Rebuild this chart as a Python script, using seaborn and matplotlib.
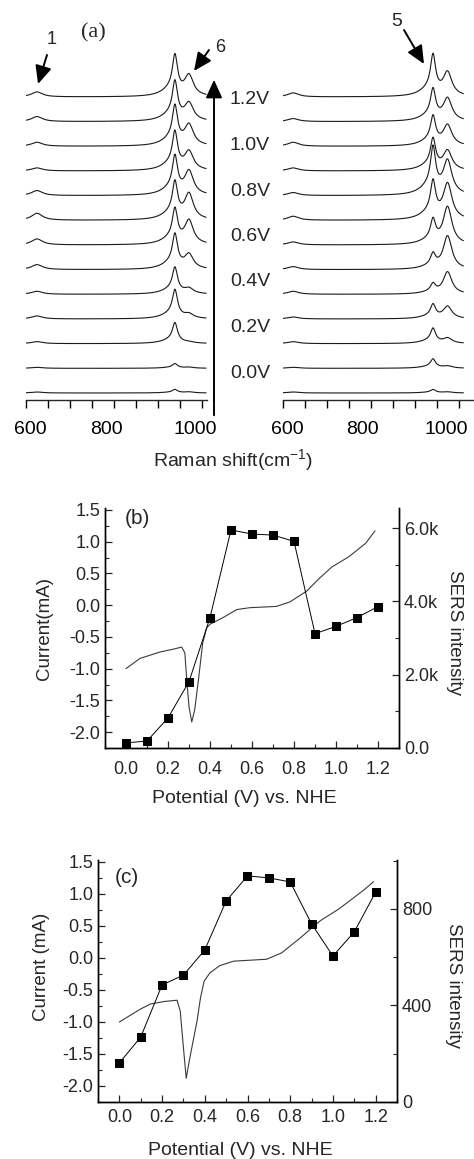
import matplotlib

matplotlib.use("Agg")
import matplotlib.pyplot as plt
import numpy as np
import pandas as pd
import seaborn as sns
from matplotlib.patches import FancyArrowPatch
from matplotlib.ticker import FuncFormatter, MultipleLocator
from matplotlib.transforms import ScaledTranslation

W, H = 474, 1159

# ---- (a) SERS spectra, bottom (0.0 V) to top (1.2 V) ----
potentials_a = [0.0, 0.1, 0.2, 0.3, 0.4, 0.5, 0.6, 0.7, 0.8, 0.9, 1.0, 1.1, 1.2]
potential_labels = ["0.0V", "0.2V", "0.4V", "0.6V", "0.8V", "1.0V", "1.2V"]

band_centers_left = [625, 939, 971]
band1_left = [1, 1, 2, 3, 3, 5, 6, 7, 5, 3, 4, 5, 5]
bandA_left = [3, 4, 18, 25, 23, 30, 30, 32, 33, 33, 34, 34, 35]
bandB_left = [1, 1, 1, 4, 5, 14, 23, 25, 23, 18, 20, 17, 20]

band_centers_right = [623, 941, 974]
band1_right = [1, 1, 2, 2, 3, 3, 3, 4, 3, 3, 4, 3, 4]
bandA_right = [3, 8, 13, 12, 8, 12, 20, 32, 40, 27, 25, 27, 35]
bandB_right = [1, 2, 5, 12, 22, 33, 37, 35, 33, 19, 20, 22, 23]

# ---- (b) CV and SERS intensity ----
cv_b_potential = [0.0, 0.066, 0.16, 0.23, 0.265, 0.28, 0.29, 0.30, 0.313, 0.327, 0.346,
                  0.365, 0.384, 0.40, 0.46, 0.527, 0.59, 0.716, 0.78, 0.86, 0.92, 0.98,
                  1.06, 1.14, 1.186]
cv_b_current = [-1.00, -0.84, -0.74, -0.69, -0.66, -0.75, -1.2, -1.6, -1.84, -1.65, -1.15,
                -0.6, -0.36, -0.30, -0.20, -0.07, -0.04, -0.02, 0.05, 0.22, 0.42, 0.60,
                0.76, 0.97, 1.17]

sers_potential = [0.0, 0.1, 0.2, 0.3, 0.4, 0.5, 0.6, 0.7, 0.8, 0.9, 1.0, 1.1, 1.2]
sers_b = [140, 190, 820, 1810, 3560, 5950, 5840, 5810, 5640, 3120, 3320, 3560, 3860]

# ---- (c) CV and SERS intensity ----
cv_c_potential = [0.0, 0.098, 0.145, 0.21, 0.27, 0.285, 0.30, 0.313, 0.33, 0.364, 0.38,
                  0.397, 0.425, 0.47, 0.535, 0.69, 0.76, 0.846, 0.94, 1.03, 1.14, 1.19]
cv_c_current = [-1.0, -0.8, -0.72, -0.68, -0.66, -0.83, -1.4, -1.88, -1.56, -0.98, -0.62,
                -0.36, -0.23, -0.12, -0.05, -0.02, 0.08, 0.31, 0.58, 0.77, 1.05, 1.19]
sers_c = [162, 269, 485, 526, 630, 833, 937, 929, 912, 738, 605, 705, 870]


def px_rect(x0, y0, x1, y1):
    return [x0 / W, 1 - y1 / H, (x1 - x0) / W, (y1 - y0) / H]


def fpx(x, y):
    return (x / W, 1 - y / H)


def lor(x, c, w):
    return 1.0 / (1.0 + ((x - c) / w) ** 2)


def spectra_frame(centers, h1, ha, hb, step=24.67, base=7.0):
    shift = np.linspace(600, 1010, 700)
    rows = []
    for i, pot in enumerate(potentials_a):
        sig = (h1[i] * lor(shift, centers[0], 15)
               + ha[i] * (lor(shift, centers[1], 7) + 0.2 * lor(shift, centers[1] - 10, 25))
               + hb[i] * lor(shift, centers[2], 12))
        rows.append(pd.DataFrame({"shift": shift, "signal": sig + base + i * step,
                                  "potential": pot}))
    return pd.concat(rows, ignore_index=True)


sns.set_style("ticks")
plt.rcParams["font.family"] = ["Liberation Sans", "DejaVu Sans"]
plt.rcParams["mathtext.fontset"] = "custom"
plt.rcParams["mathtext.rm"] = "Liberation Sans"
plt.rcParams["mathtext.it"] = "Liberation Sans"

fig = plt.figure(figsize=(W / 100, H / 100), dpi=100)

# ---------- panel (a) ----------
ax_l = fig.add_axes(px_rect(26, 40, 207, 400))
ax_r = fig.add_axes(px_rect(283, 40, 283 + 0.44 * 440, 400))
for ax, centers, h1, ha, hb, xmax, shifts in [
    (ax_l, band_centers_left, band1_left, bandA_left, bandB_left, 1012, [4, -7, -6]),
    (ax_r, band_centers_right, band1_right, bandA_right, bandB_right, 1040, [4, -9, -13]),
]:
    df = spectra_frame(centers, h1, ha, hb)
    sns.lineplot(data=df, x="shift", y="signal", units="potential", estimator=None,
                 color="#1a1a1a", lw=0.8, ax=ax)
    ax.set_xlim(600, xmax)
    ax.set_ylim(0, 360)
    ax.set_xlabel("")
    ax.set_ylabel("")
    ax.set_yticks([])
    for side in ["left", "right", "top"]:
        ax.spines[side].set_visible(False)
    ax.spines["bottom"].set_linewidth(1.0)
    ax.set_xticks([600, 800, 1000])
    ax.xaxis.set_minor_locator(MultipleLocator(50))
    ax.tick_params(axis="x", which="both", direction="out", length=6, width=1.0,
                   labelsize=14, pad=9, colors="black")
    ax.patch.set_alpha(0)
    # the printed labels sit slightly off their ticks in the original
    for lbl, dx in zip(ax.get_xticklabels(), shifts):
        lbl.set_transform(lbl.get_transform() + ScaledTranslation(dx / 100, 0, fig.dpi_scale_trans))

for lab, ypx in zip(potential_labels, np.linspace(373, 100, len(potential_labels))):
    fig.text(*fpx(250, ypx), lab, ha="center", va="center", fontsize=14)

fig.text(*fpx(233, 460), "Raman shift(cm$^{-1}$)", ha="center", va="center", fontsize=14)
fig.text(*fpx(93, 33), "(a)", ha="center", va="center", fontsize=16,
         family=["Liberation Serif"])

arrow_kw = dict(transform=fig.transFigure, color="black", lw=1.4,
                arrowstyle="-|>,head_length=0.55,head_width=0.25", mutation_scale=20)
fig.add_artist(FancyArrowPatch(fpx(214, 418), fpx(214, 77), **arrow_kw))
fig.add_artist(FancyArrowPatch(fpx(47, 55), fpx(38, 84), shrinkA=0, shrinkB=0, **arrow_kw))
fig.add_artist(FancyArrowPatch(fpx(209, 50), fpx(194, 71), shrinkA=0, shrinkB=0, **arrow_kw))
fig.add_artist(FancyArrowPatch(fpx(404, 30), fpx(424, 64), shrinkA=0, shrinkB=0, **arrow_kw))
fig.text(*fpx(52, 40), "1", ha="center", va="center", fontsize=13)
fig.text(*fpx(220, 48), "6", ha="center", va="center", fontsize=13)
fig.text(*fpx(397, 22), "5", ha="center", va="center", fontsize=14)


# ---------- panels (b) and (c) ----------
def cv_panel(rect, cv_x, cv_y, sers_y, sers_lim, sers_major, sers_fmt, letter, letter_xy,
             ylab, ylab_xy, sers_lab_xy, xlab_xy, xpad):
    ax = fig.add_axes(px_rect(*rect))
    sns.lineplot(x=cv_x, y=cv_y, ax=ax, color="#3a3a3a", lw=0.8, sort=False, estimator=None)
    ax.set_xlim(-0.1, 1.3)
    ax.set_ylim(-2.25, 1.53)
    ax.xaxis.set_major_locator(MultipleLocator(0.2))
    ax.xaxis.set_minor_locator(MultipleLocator(0.1))
    ax.yaxis.set_major_locator(MultipleLocator(0.5))
    ax.yaxis.set_minor_locator(MultipleLocator(0.25))
    ax.xaxis.set_major_formatter(FuncFormatter(lambda v, p: f"{v:.1f}"))
    ax.yaxis.set_major_formatter(FuncFormatter(lambda v, p: f"{v:.1f}".replace("-0.0", "0.0")))
    ax.tick_params(axis="both", which="major", direction="in", length=5, width=0.9,
                   labelsize=13)
    ax.tick_params(axis="both", which="minor", direction="in", length=3, width=0.8)
    ax.tick_params(axis="x", which="major", pad=xpad)
    ax.set_xlabel("Potential (V) vs. NHE", fontsize=14)
    ax.xaxis.set_label_coords(*xlab_xy)
    ax.set_ylabel(ylab, fontsize=13.5)
    ax.yaxis.set_label_coords(*ylab_xy)
    ax.text(*letter_xy, letter, transform=ax.transAxes, ha="center", va="center", fontsize=15)

    ax2 = ax.twinx()
    sns.lineplot(x=sers_potential, y=sers_y, ax=ax2, color="black", lw=0.7, marker="s",
                 markersize=5.5, markeredgecolor="black", sort=False, estimator=None)
    ax2.set_ylim(0, sers_lim)
    ax2.yaxis.set_major_locator(MultipleLocator(sers_major))
    ax2.yaxis.set_minor_locator(MultipleLocator(sers_major / 2))
    ax2.yaxis.set_major_formatter(FuncFormatter(sers_fmt))
    ax2.tick_params(axis="y", which="major", direction="in", length=5, width=0.9,
                    labelsize=13)
    ax2.tick_params(axis="y", which="minor", direction="in", length=3, width=0.8)
    ax2.set_ylabel("SERS intensity", fontsize=13.5, rotation=270)
    ax2.yaxis.set_label_coords(*sers_lab_xy)
    for a in (ax, ax2):
        a.spines["top"].set_visible(False)
        for s in ("left", "right", "bottom"):
            a.spines[s].set_linewidth(1.0)
            a.spines[s].set_color("black")
    return ax, ax2


cv_panel((105, 508, 399, 748), cv_b_potential, cv_b_current, sers_b, 6550, 2000,
         lambda v, p: "0.0" if v == 0 else f"{v / 1000:.1f}k",
         "(b)", (0.109, 0.955), "Current(mA)", (-0.177, 0.5), (1.217, 0.483),
         (0.473, -0.175), 9)
cv_panel((98, 860, 397, 1102), cv_c_potential, cv_c_current, sers_c, 1003, 400,
         lambda v, p: f"{v:.0f}",
         "(c)", (0.097, 0.926), "Current (mA)", (-0.16, 0.56), (1.217, 0.483),
         (0.475, -0.165), 5)

fig.savefig("out.png", dpi=100)
